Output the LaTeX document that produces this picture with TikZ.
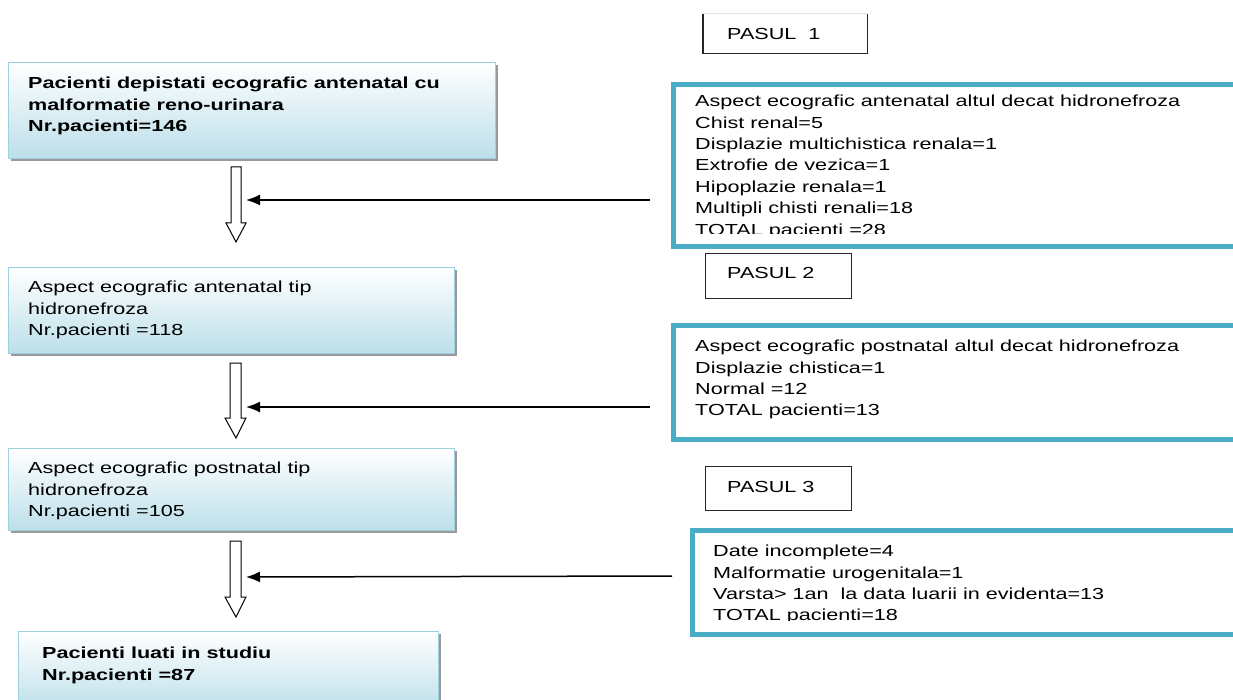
\documentclass[tikz,border=0pt]{standalone}
\usepackage{fontspec}
\setmainfont{Liberation Sans}[FakeStretch=1.35]
\usetikzlibrary{shadows,arrows.meta}
\definecolor{tealb}{HTML}{4BACC6}
\definecolor{lbfill}{HTML}{BCDFEA}
\definecolor{lbdraw}{HTML}{9DD0E0}
\begin{document}
\begin{tikzpicture}[x=1pt,y=-1pt,
  txt/.style={font=\fontsize{16}{21.4}\selectfont, align=left, anchor=north west, inner sep=0pt},
  boldtxt/.style={txt, font=\fontsize{16}{21.4}\selectfont\bfseries},
  leftbox/.style={draw=lbdraw, line width=1pt, top color=white, bottom color=lbfill, anchor=north west, inner sep=0pt,
    drop shadow={shadow xshift=2.5pt, shadow yshift=-2.5pt, fill=black!40, opacity=1}},
  rightbox/.style={draw=tealb, line width=5pt, anchor=north west, inner sep=0pt},
  pasbox/.style={draw=black!85, line width=1.2pt, anchor=north west, inner sep=0pt},
  openarrow/.style={draw=black, line width=1pt, fill=white, line join=miter},
  feed/.style={draw=black, line width=1.5pt, -{Latex[length=14pt,width=11pt]}}
]
\useasboundingbox (0,0) rectangle (1233,700);
\clip (0,0) rectangle (1233,700);

% left boxes
\node[leftbox, minimum width=487pt, minimum height=96pt] (b1) at (8,62) {};
\node[leftbox, minimum width=446pt, minimum height=86pt] (b2) at (8,267) {};
\node[leftbox, minimum width=446pt, minimum height=82pt] (b3) at (8,448) {};
\node[leftbox, minimum width=420pt, minimum height=80pt] (b4) at (18,631) {};

\node[boldtxt] (t1) at (28,77) {Pacienti depistati ecografic antenatal cu\\malformatie reno-urinara\\Nr.pacienti=146};
\node[txt] (t2) at (28,281) {Aspect ecografic antenatal tip\\hidronefroza\\Nr.pacienti =118};
\node[txt] (t3) at (28,462) {Aspect ecografic postnatal tip\\hidronefroza\\Nr.pacienti =105};
\node[boldtxt] (t4) at (42,647) {Pacienti luati in studiu\\Nr.pacienti =87};

% PASUL boxes
\node[anchor=north west, inner sep=0pt, minimum width=164pt, minimum height=39pt] (p1) at (703,14) {};
\draw[black!10, line width=1pt] (p1.north west) -- (p1.north east);
\draw[black!85, line width=1.2pt] (p1.north west) -- (p1.south west) -- (p1.south east) -- (p1.north east);
\node[txt] (p1t) at (727,28) {PASUL\ \ 1};
\node[pasbox, minimum width=146pt, minimum height=45pt] (p2) at (705,253) {};
\node[txt] (p2t) at (727,267) {PASUL 2};
\node[pasbox, minimum width=146pt, minimum height=44pt] (p3) at (705,466) {};
\node[txt] (p3t) at (727,481) {PASUL 3};

% right boxes: text clipped by inner edge, then border
\begin{scope}
\clip (670,84) rectangle (1240,234);
\node[txt] (r1t) at (695,95) {Aspect ecografic antenatal altul decat hidronefroza\\Chist renal=5\\Displazie multichistica renala=1\\Extrofie de vezica=1\\Hipoplazie renala=1\\Multipli chisti renali=18\\TOTAL pacienti =28};
\end{scope}
\node[rightbox, minimum width=600pt, minimum height=162pt] (r1) at (670.5,82) {};

\node[txt] (r2t) at (695,340) {Aspect ecografic postnatal altul decat hidronefroza\\Displazie chistica=1\\Normal =12\\TOTAL pacienti=13};
\node[rightbox, minimum width=600pt, minimum height=114pt] (r2) at (670.5,323) {};

\begin{scope}
\clip (690,530) rectangle (1240,620);
\node[txt] (r3t) at (713,545) {Date incomplete=4\\Malformatie urogenitala=1\\Varsta> 1an\ \ la data luarii in evidenta=13\\TOTAL pacienti=18};
\end{scope}
\node[rightbox, minimum width=600pt, minimum height=104pt] (r3) at (689.5,528) {};

% open block arrows
\draw[openarrow] (231,167) -- (241,167) -- (241,223) -- (246,223) -- (236,242) -- (226,223) -- (231,223) -- cycle;
\draw[openarrow] (230,363) -- (241,363) -- (241,418) -- (246,418) -- (236,438) -- (225,418) -- (230,418) -- cycle;
\draw[openarrow] (230,541) -- (241,541) -- (241,597) -- (246,597) -- (236,617) -- (225,597) -- (230,597) -- cycle;

% feed arrows
\coordinate (s1) at (650,200); \coordinate (e1) at (246,200);
\coordinate (s2) at (650,407); \coordinate (e2) at (246,407);
\coordinate (s3) at (672,576); \coordinate (e3) at (246,577);
\draw[feed] (s1) -- (e1);
\draw[feed] (s2) -- (e2);
\draw[feed] (s3) -- (e3);
\end{tikzpicture}
\end{document}
